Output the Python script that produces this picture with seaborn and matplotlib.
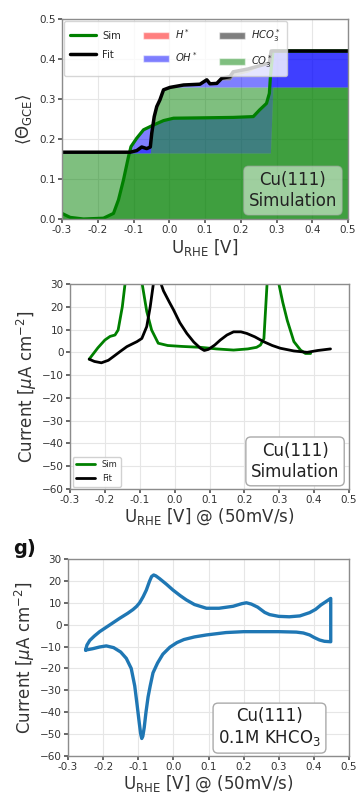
import numpy as np
import pandas as pd
import matplotlib
matplotlib.use("Agg")
import matplotlib.pyplot as plt
from matplotlib.patches import Patch
from matplotlib.lines import Line2D
import seaborn as sns

# ---------------- data: panel 1 (coverage) ----------------
sim_u = [-0.300, -0.277, -0.240, -0.184, -0.156, -0.142, -0.128, -0.114, -0.107, -0.091,
         -0.072, -0.044, -0.016, 0.012, 0.100, 0.179, 0.235, 0.253, 0.272, 0.280, 0.283,
         0.290, 0.500]
sim_co3 = [0.014, 0.004, 0.000, 0.002, 0.014, 0.048, 0.098, 0.156, 0.165, 0.165,
           0.165, 0.165, 0.165, 0.165, 0.165, 0.165, 0.165, 0.165, 0.165, 0.165, 0.165,
           0.330, 0.330]
sim_oh = [0.000, 0.000, 0.000, 0.000, 0.000, 0.000, 0.000, 0.000, 0.016, 0.037,
          0.058, 0.070, 0.081, 0.087, 0.088, 0.089, 0.091, 0.108, 0.124, 0.149, 0.191,
          0.090, 0.090]
sim_hco3 = [0.0] * len(sim_u)
sim_h = [0.0] * len(sim_u)

fit_u = [-0.300, -0.109, -0.091, -0.077, -0.063, -0.053, -0.049, -0.042, -0.035, -0.026,
         -0.016, 0.002, 0.040, 0.086, 0.105, 0.114, 0.133, 0.147, 0.170, 0.179,
         0.220, 0.260, 0.280, 0.285, 0.500]
fit_co3 = [0.165, 0.165, 0.165, 0.165, 0.165, 0.165, 0.214, 0.256, 0.281, 0.298,
           0.323, 0.329, 0.330, 0.330, 0.330, 0.330, 0.330, 0.330, 0.330, 0.330,
           0.330, 0.330, 0.330, 0.330, 0.330]
fit_oh = [0.002, 0.002, 0.006, 0.015, 0.011, 0.015, 0.000, 0.000, 0.000, 0.000,
          0.000, 0.000, 0.005, 0.007, 0.018, 0.008, 0.009, 0.018, 0.018, 0.028,
          0.037, 0.055, 0.060, 0.090, 0.090]
fit_hco3 = [0.0, 0.0, 0.0, 0.0, 0.0, 0.0, 0.0, 0.0, 0.0, 0.0,
            0.0, 0.0, 0.0, 0.0, 0.0, 0.0, 0.0, 0.004, 0.008, 0.010,
            0.008, 0.0, 0.0, 0.0, 0.0]
fit_h = [0.0] * len(fit_u)

# ---------------- data: panel 2 (simulated CV) ----------------
cv_sim_u = [-0.245, -0.220, -0.200, -0.185, -0.171, -0.162, -0.150, -0.142, -0.125,
            -0.110, -0.093, -0.080, -0.066, -0.047, -0.020, 0.020, 0.074, 0.120, 0.169,
            0.210, 0.235, 0.246, 0.256, 0.265, 0.282, 0.299, 0.310, 0.323, 0.342,
            0.361, 0.375, 0.390]
cv_sim_i = [-3.0, 2.0, 5.4, 7.0, 7.6, 9.8, 20.0, 30.3, 45.0,
            45.0, 30.0, 18.0, 9.8, 4.0, 3.0, 2.6, 2.2, 1.5, 1.0,
            1.5, 2.2, 3.2, 6.0, 30.0, 45.0, 30.0, 22.0, 14.0, 4.7,
            1.0, -0.5, -0.5]
cv_fit_u = [-0.245, -0.230, -0.210, -0.190, -0.175, -0.155, -0.137, -0.120, -0.108,
            -0.094, -0.080, -0.070, -0.061, -0.050, -0.040, -0.032, -0.015, -0.003,
            0.015, 0.035, 0.055, 0.074, 0.085, 0.097, 0.115, 0.131, 0.150, 0.169,
            0.190, 0.207, 0.230, 0.255, 0.280, 0.303, 0.342, 0.380, 0.410, 0.447]
cv_fit_i = [-3.0, -4.0, -4.6, -3.5, -1.8, 0.5, 2.5, 3.8, 4.7,
            6.1, 11.3, 20.0, 30.0, 32.0, 30.5, 27.0, 22.0, 18.6,
            13.0, 8.3, 4.5, 1.8, 0.8, 1.3, 3.2, 5.4, 7.6, 9.0,
            9.0, 8.3, 6.8, 4.7, 3.0, 1.8, 0.6, 0.0, 0.8, 1.5]

# ---------------- data: panel 3 (experimental CV, closed loop) ----------------
exp_u = [-0.250, -0.246, -0.238, -0.225, -0.210, -0.180, -0.153, -0.130, -0.115, -0.105,
         -0.096, -0.086, -0.077, -0.068, -0.062, -0.056, -0.050, -0.039, -0.020, -0.001,
         0.020, 0.037, 0.060, 0.094, 0.130, 0.170, 0.195, 0.208, 0.222, 0.240,
         0.260, 0.274, 0.300, 0.330, 0.360, 0.388, 0.405, 0.420, 0.435, 0.448,
         0.448, 0.430, 0.416, 0.400, 0.388, 0.370, 0.350, 0.300, 0.200, 0.150,
         0.094, 0.060, 0.030, 0.010, -0.010, -0.030, -0.045, -0.058, -0.066, -0.072,
         -0.078, -0.083, -0.087, -0.090, -0.093, -0.097, -0.103, -0.110, -0.120, -0.134,
         -0.150, -0.170, -0.191, -0.210, -0.230, -0.250]
exp_i = [-11.6, -9.3, -7.2, -5.2, -3.2, 0.0, 2.9, 5.2, 6.9, 8.3,
         10.0, 12.8, 15.8, 19.8, 22.0, 22.7, 22.3, 21.0, 18.5, 15.8,
         13.2, 11.3, 9.2, 7.5, 7.5, 8.4, 9.6, 10.0, 9.4, 8.0,
         5.6, 4.6, 3.8, 3.6, 4.0, 5.5, 7.0, 9.0, 10.6, 12.0,
         -7.8, -7.6, -7.0, -5.8, -4.7, -3.8, -3.4, -3.2, -3.2, -3.6,
         -4.7, -5.6, -6.8, -8.2, -10.3, -13.5, -17.5, -22.0, -28.0, -33.0,
         -40.0, -47.0, -51.0, -52.0, -50.0, -45.0, -37.0, -28.0, -20.0, -15.4,
         -12.5, -10.5, -9.7, -10.2, -11.0, -11.6]

xticks = [-0.3, -0.2, -0.1, 0.0, 0.1, 0.2, 0.3, 0.4, 0.5]
cov_ticks = [0.0, 0.1, 0.2, 0.3, 0.4, 0.5]
cur_ticks = [-60, -50, -40, -30, -20, -10, 0, 10, 20, 30]

# ---------------- style ----------------
sns.set_theme(style="whitegrid")
plt.rcParams["font.family"] = ["DejaVu Sans"]
plt.rcParams.update({
    "axes.edgecolor": "#8c8c8c",
    "axes.linewidth": 1.0,
    "grid.color": "#e6e6e6",
    "grid.linewidth": 0.8,
    "xtick.bottom": True,
    "ytick.left": True,
    "xtick.color": "#555555",
    "ytick.color": "#555555",
    "xtick.labelcolor": "#333333",
    "ytick.labelcolor": "#333333",
    "xtick.major.size": 3,
    "ytick.major.size": 3,
    "xtick.major.pad": 1.5,
    "ytick.major.pad": 1.5,
    "xtick.labelsize": 7.5,
    "ytick.labelsize": 7.5,
    "axes.labelsize": 12,
    "axes.labelcolor": "#333333",
    "axes.unicode_minus": True,
})

W, H = 361, 798
fig = plt.figure(figsize=(W / 100, H / 100), dpi=100)


def ax_at(l, t, r, b):
    return fig.add_axes([l / W, (H - b) / H, (r - l) / W, (b - t) / H])


ax1 = ax_at(62, 19, 348, 219)
ax2 = ax_at(70, 284, 349, 489)
ax3 = ax_at(68, 559, 349, 756)

c_co3, c_oh, c_hco3, c_h = "green", "blue", "black", "red"
a = 0.5

# ---- panel 1 ----
ax1.stackplot(sim_u, sim_co3, sim_oh, sim_hco3, sim_h,
              colors=[c_co3, c_oh, c_hco3, c_h], alpha=a, linewidth=0)
ax1.stackplot(fit_u, fit_co3, fit_oh, fit_hco3, fit_h,
              colors=[c_co3, c_oh, c_hco3, c_h], alpha=a, linewidth=0)
sim_df = pd.DataFrame({"u": sim_u,
                       "theta": np.sum([sim_co3, sim_oh, sim_hco3, sim_h], axis=0)})
fit_df = pd.DataFrame({"u": fit_u,
                       "theta": np.sum([fit_co3, fit_oh, fit_hco3, fit_h], axis=0)})
sns.lineplot(data=sim_df, x="u", y="theta", ax=ax1, color="green", lw=2.3,
             sort=False, estimator=None)
sns.lineplot(data=fit_df, x="u", y="theta", ax=ax1, color="black", lw=2.5,
             sort=False, estimator=None)
ax1.set_xlim(-0.3, 0.5)
ax1.set_ylim(0, 0.5)
ax1.set_xticks(xticks)
ax1.set_yticks(cov_ticks)
ax1.xaxis.set_major_formatter(matplotlib.ticker.FormatStrFormatter("%.1f"))
ax1.yaxis.set_major_formatter(matplotlib.ticker.FormatStrFormatter("%.1f"))
ax1.set_xlabel(r"U$_{\rm RHE}$ [V]", labelpad=1)
ax1.set_ylabel(r"$\langle\Theta_{\rm GCE}\rangle$", labelpad=4)
handles = [Line2D([], [], color="green", lw=2.3), Line2D([], [], color="black", lw=2.5),
           Patch(facecolor=c_h, alpha=a), Patch(facecolor=c_oh, alpha=a),
           Patch(facecolor=c_hco3, alpha=a), Patch(facecolor=c_co3, alpha=a)]
labels = ["Sim", "Fit", r"$H^*$", r"$OH^*$", r"$HCO_3^*$", r"$CO_3^*$"]
ax1.legend(handles, labels, ncol=3, loc="upper left", fontsize=7.2, framealpha=0.8,
           borderaxespad=0.2, handlelength=2.6, columnspacing=2.2, labelspacing=0.9,
           borderpad=0.6, handletextpad=0.6, bbox_to_anchor=(0.0, 1.0))
ax1.text(0.962, 0.045, "Cu(111)\nSimulation", transform=ax1.transAxes, ha="right",
         va="bottom", fontsize=12, color="#222222", multialignment="center",
         bbox=dict(boxstyle="round,pad=0.3", facecolor="white", alpha=0.5,
                   edgecolor="#aaaaaa"))

# ---- panel 2 ----
sns.lineplot(x=cv_sim_u, y=cv_sim_i, ax=ax2, color="green", lw=2.0, sort=False,
             estimator=None, label="Sim")
sns.lineplot(x=cv_fit_u, y=cv_fit_i, ax=ax2, color="black", lw=2.0, sort=False,
             estimator=None, label="Fit")
ax2.set_xlim(-0.3, 0.5)
ax2.set_ylim(-60, 30)
ax2.set_xticks(xticks)
ax2.set_yticks(cur_ticks)
ax2.xaxis.set_major_formatter(matplotlib.ticker.FormatStrFormatter("%.1f"))
ax2.set_xlabel(r"U$_{\rm RHE}$ [V] @ (50mV/s)", labelpad=1)
ax2.set_ylabel(r"Current [$\mu$A cm$^{-2}$]", labelpad=2)
ax2.legend(loc="lower left", fontsize=6, framealpha=0.9, borderaxespad=0.3,
           handlelength=2.3, labelspacing=0.6)
ax2.text(0.965, 0.04, "Cu(111)\nSimulation", transform=ax2.transAxes, ha="right",
         va="bottom", fontsize=12, color="#222222", multialignment="center",
         bbox=dict(boxstyle="round,pad=0.3", facecolor="white", edgecolor="#aaaaaa"))

# ---- panel 3 ----
sns.lineplot(x=exp_u, y=exp_i, ax=ax3, color="#1f77b4", lw=2.4, sort=False,
             estimator=None)
ax3.set_xlim(-0.3, 0.5)
ax3.set_ylim(-60, 30)
ax3.set_xticks(xticks)
ax3.set_yticks(cur_ticks)
ax3.xaxis.set_major_formatter(matplotlib.ticker.FormatStrFormatter("%.1f"))
ax3.set_xlabel(r"U$_{\rm RHE}$ [V] @ (50mV/s)", labelpad=1)
ax3.set_ylabel(r"Current [$\mu$A cm$^{-2}$]", labelpad=2)
ax3.text(0.9, 0.04, "Cu(111)\n0.1M KHCO$_3$", transform=ax3.transAxes, ha="right",
         va="bottom", fontsize=12, color="#222222", multialignment="center",
         bbox=dict(boxstyle="round,pad=0.3", facecolor="white", edgecolor="#aaaaaa"))

fig.text(13 / W, (H - 549) / H, "g)", fontsize=14, fontweight="bold", ha="left",
         va="center", color="#111111")

fig.savefig("out.png", dpi=100)
